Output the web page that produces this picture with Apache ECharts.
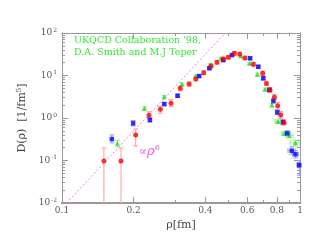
<!DOCTYPE html>
<html><head><meta charset="utf-8">
<script src="https://cdn.jsdelivr.net/npm/echarts@6/dist/echarts.min.js"></script>
<style>html,body{margin:0;padding:0;background:#fff}#c{width:322px;height:241px}</style>
</head><body><div id="c"></div>
<script>
// ---- data ----
const redX = [0.150,0.177,0.204,0.232,0.259,0.287,0.314,0.342,0.365,0.394,0.423,0.448,0.476,0.500,0.530,0.558,0.587,0.637,0.697,0.723,0.748,0.780,0.806,0.830,0.857];
const redY = [0.097,0.097,0.40,1.16,1.6,2.22,5.0,6.3,8.3,11.6,16.7,20.4,24.5,26.8,33.3,32,25.8,18.4,11.3,6.5,4.56,3.07,1.95,1.18,0.78];
const redYLo = [0.01,0.01,0.22,0.95,1.3,1.85,4.4,5.6,7.5,10.5,15,18.5,22,24.5,30,29,23.5,16.5,10,5.8,4,2.65,1.6,0.98,0.68];
const redYHi = [0.197,0.197,0.55,1.4,1.9,2.7,5.6,7.0,9.2,12.8,18.5,22.5,27,29.5,36.5,35,28.5,20.5,12.7,7.3,5.2,3.55,2.35,1.42,0.9];

const blueX = [0.162,0.199,0.234,0.269,0.306,0.377,0.416,0.476,0.518,0.617,0.668,0.701,0.743,0.773,0.803,0.848,0.884,0.923,0.957,0.993];
const blueY = [0.32,0.75,0.90,2.13,3.35,9.7,14.8,23,30.3,25.4,16.1,8.6,4.6,2.51,1.36,0.80,0.436,0.17,0.14,0.078];
const blueYLo = [0.26,0.65,0.8,1.95,3.1,9,13.8,21.5,28.5,23.8,15,7.9,4.2,2.25,1.2,0.7,0.38,0.14,0.115,0.045];
const blueYHi = [0.40,0.87,1.02,2.33,3.6,10.4,15.8,24.5,32,27,17.2,9.3,5.0,2.8,1.54,0.92,0.5,0.21,0.17,0.1];
const blueXLo = [null,null,null,null,null,null,null,null,null,null,null,null,null,null,null,null,0.86,0.89,0.93,0.97];
const blueXHi = [null,null,null,null,null,null,null,null,null,null,null,null,null,null,null,null,0.91,0.955,0.985,1.0];

const greenX = [0.171,0.222,0.269,0.319,0.365,0.420,0.466,0.564,0.614,0.662,0.713,0.762,0.809,0.859,0.901,0.956];
const greenY = [0.254,1.69,3.17,6.3,9.7,18,25.3,28.8,19.4,10.7,4.73,2.02,0.83,0.43,0.39,0.26];
const greenYLo = [0.21,1.55,2.95,5.9,9.1,17,24,27,18.2,10,4.4,1.88,0.77,0.39,0.35,0.22];
const greenYHi = [0.30,1.84,3.4,6.7,10.3,19,26.6,30.6,20.6,11.4,5.05,2.17,0.9,0.47,0.43,0.3];
const greenXLo = [null,null,null,null,null,null,null,null,null,null,null,null,0.785,0.84,0.87,0.91];
const greenXHi = [null,null,null,null,null,null,null,null,null,null,null,null,0.835,0.88,0.935,1.0];

const powX = [0.1046, 0.485];   // ∝ rho^6 guide line end points
const powY = [0.01, 100];

const xLabelTicks = [0.1,0.2,0.4,0.6,0.8,1];
const xMinorTicks = [0.3,0.5,0.7,0.9];
const yLabelTicks = [0.01,0.1,1,10,100];
const yMinorTicks = [];
[0.01,0.1,1,10].forEach(d => { for (let k = 2; k <= 9; k++) yMinorTicks.push(+(d*k).toPrecision(3)); });

const legendLines = ["UKQCD Collaboration '98,", "D.A. Smith and M.J Teper"];

// ---- chart ----
const FONT = 'DejaVu Serif';
const AX = '#999';
const chart = echarts.init(document.getElementById('c'), null, {renderer:'canvas'});

function pts(xs, ys) { return xs.map((x,i)=>[x, ys[i]]); }
function errData(xs, ys, lo, hi, xl, xh) {
  return xs.map((x,i)=>[x, ys[i], lo?lo[i]:null, hi?hi[i]:null, xl?xl[i]:null, xh?xh[i]:null].map(v=>v==null?'-':v));
}
function errSeries(data, color) {
  return {
    type:'custom', xAxisIndex:0, yAxisIndex:0, clip:true, z:1, silent:true,
    encode:{x:0, y:1},
    renderItem(params, api){
      const x=api.value(0), y=api.value(1), lo=api.value(2), hi=api.value(3), xl=api.value(4), xh=api.value(5);
      const ch=[]; const c=2.5; const st={stroke:color, lineWidth:1};
      if (!isNaN(lo) && !isNaN(hi)) {
        const a=api.coord([x,lo]), b=api.coord([x,hi]);
        ch.push({type:'line', shape:{x1:a[0],y1:a[1],x2:b[0],y2:b[1]}, style:st});
        ch.push({type:'line', shape:{x1:a[0]-c,y1:a[1],x2:a[0]+c,y2:a[1]}, style:st});
        ch.push({type:'line', shape:{x1:b[0]-c,y1:b[1],x2:b[0]+c,y2:b[1]}, style:st});
      }
      if (!isNaN(xl) && !isNaN(xh)) {
        const a=api.coord([xl,y]), b=api.coord([xh,y]);
        ch.push({type:'line', shape:{x1:a[0],y1:a[1],x2:b[0],y2:b[1]}, style:st});
        ch.push({type:'line', shape:{x1:a[0],y1:a[1]-c,x2:a[0],y2:a[1]+c}, style:st});
        ch.push({type:'line', shape:{x1:b[0],y1:b[1]-c,x2:b[0],y2:b[1]+c}, style:st});
      }
      return {type:'group', children:ch};
    },
    data
  };
}

function xAx(pos, ticks, len, labels) {
  return {
    type:'log', logBase:10, min:0.1, max:1, position:pos, gridIndex:0,
    axisLine:{show:true, onZero:false, lineStyle:{color:AX, width: pos==='bottom'?2:1}},
    axisTick:{show:true, inside:true, length:len, customValues:ticks, lineStyle:{color:AX}},
    axisLabel: labels ? {show:true, customValues:xLabelTicks, fontFamily:FONT, fontSize:9, color:'#555', margin:3,
       formatter: v => String(+v.toFixed(1)) } : {show:false},
    splitLine:{show:false}, minorTick:{show:false},
    name: labels ? 'ρ[fm]' : '', nameLocation:'middle', nameGap:16,
    nameTextStyle:{fontFamily:FONT, fontSize:11, color:'#444'}
  };
}
function yAx(pos, ticks, len, labels) {
  return {
    type:'log', logBase:10, min:0.01, max:100, position:pos, gridIndex:0,
    axisLine:{show:true, onZero:false, lineStyle:{color:AX}},
    axisTick:{show:true, inside:true, length:len, customValues:ticks, lineStyle:{color:AX}},
    axisLabel: labels ? {show:true, customValues:yLabelTicks, fontFamily:FONT, fontSize:9, color:'#555', margin:5,
       formatter: v => '10{s|' + Math.round(Math.log10(v)) + '}',
       rich:{s:{fontFamily:FONT, fontSize:6, color:'#555', verticalAlign:'top', padding:[0,0,6,1]}}} : {show:false},
    splitLine:{show:false}, minorTick:{show:false},
    name: labels ? 'D(ρ)  [1/fm{s|5}]' : '', nameLocation:'middle', nameGap:32, nameRotate:90,
    nameTextStyle:{fontFamily:FONT, fontSize:11, color:'#444',
      rich:{s:{fontFamily:FONT, fontSize:7, color:'#444', padding:[0,0,7,0]}}}
  };
}

const option = {
  animation:false,
  backgroundColor:'#fff',
  grid:{left:62, right:22, top:33, bottom:38},
  xAxis:[ xAx('bottom', xLabelTicks, 6, true), xAx('bottom', xMinorTicks, 3, false),
          xAx('top', xLabelTicks, 6, false), xAx('top', xMinorTicks, 3, false) ],
  yAxis:[ yAx('left', yLabelTicks, 6, true), yAx('left', yMinorTicks, 3, false),
          yAx('right', yLabelTicks, 6, false), yAx('right', yMinorTicks, 3, false) ],
  series:[
    {type:'line', xAxisIndex:0, yAxisIndex:0, data:pts(powX,powY), symbol:'none', silent:true,
     lineStyle:{color:'#f07cf0', width:1, type:[2,2]}, z:0},
    errSeries(errData(redX,redY,redYLo,redYHi,null,null), '#ff9a9a'),
    errSeries(errData(blueX,blueY,blueYLo,blueYHi,blueXLo,blueXHi), '#9a9aff'),
    errSeries(errData(greenX,greenY,greenYLo,greenYHi,greenXLo,greenXHi), '#8ef08e'),
    {type:'scatter', xAxisIndex:0, yAxisIndex:0, data:pts(greenX,greenY), symbol:'triangle', symbolSize:5,
     itemStyle:{color:'#1ee01e'}, z:3},
    {type:'scatter', xAxisIndex:0, yAxisIndex:0, data:pts(blueX,blueY), symbol:'rect', symbolSize:4.5,
     itemStyle:{color:'#0000ff'}, z:4},
    {type:'scatter', xAxisIndex:0, yAxisIndex:0, data:pts(redX,redY), symbol:'circle', symbolSize:5,
     itemStyle:{color:'#ff0000'}, z:5}
  ],
  graphic:[
    {type:'text', left:74, top:36, style:{text:legendLines[0], fontFamily:FONT, fontSize:9.5, fill:'#33e833'}},
    {type:'text', left:74, top:48, style:{text:legendLines[1], fontFamily:FONT, fontSize:9.5, fill:'#33e833'}},
    {type:'text', left:139, top:144, style:{text:'∝{r|ρ}{s|6}', fontFamily:FONT, fontSize:12, fill:'#ee55ee',
      rich:{r:{fontFamily:FONT, fontSize:13, fontStyle:'italic', fill:'#ee55ee'},
            s:{fontFamily:FONT, fontSize:8, fill:'#ee55ee', padding:[0,0,8,0]}}}}
  ]
};
chart.setOption(option);
</script>
</body></html>
